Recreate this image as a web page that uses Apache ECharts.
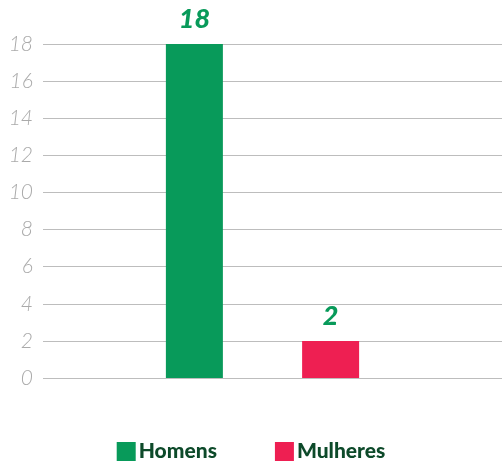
<!DOCTYPE html>
<html>
<head>
<meta charset="utf-8">
<script src="https://cdn.jsdelivr.net/npm/echarts@6/dist/echarts.min.js"></script>
<style>
  html, body { margin: 0; padding: 0; background: #fff; }
  #chart { width: 502px; height: 463px; }
</style>
</head>
<body>
<div id="chart"></div>
<script>
var categories = [''];
var seriesNames = ['Homens', 'Mulheres'];
var homensData = [18];
var mulheresData = [2];
var yMin = 0, yMax = 18, yStep = 2;

var green = '#089a5a';
var red = '#ee1f52';

var myChart = echarts.init(document.getElementById('chart'));

var labelStyle = {
  show: true,
  position: 'top',
  distance: 11,
  color: green,
  fontFamily: 'Lato',
  fontStyle: 'italic',
  fontWeight: 900,
  fontSize: 27
};

var option = {
  animation: false,
  // grid 0 only carries the y axis + grid lines, grid 1 holds the bars
  grid: [
    { left: 43, right: 0, top: 44, bottom: 85 },
    { left: 43, right: 20, top: 44, bottom: 85 }
  ],
  legend: {
    data: seriesNames,
    top: 441,
    left: 'center',
    padding: 0,
    itemWidth: 19,
    itemHeight: 19,
    itemGap: 58,
    icon: 'rect',
    textStyle: {
      color: '#0d4a2a',
      fontFamily: 'Lato',
      fontWeight: 900,
      fontSize: 21,
      padding: [0, 0, 0, -2]
    }
  },
  xAxis: [
    { type: 'category', gridIndex: 0, data: categories, show: false },
    { type: 'category', gridIndex: 1, data: categories, show: false }
  ],
  yAxis: [
    {
      type: 'value',
      gridIndex: 0,
      min: yMin,
      max: yMax,
      interval: yStep,
      axisLine: { show: false },
      axisTick: { show: false },
      axisLabel: {
        margin: 10,
        color: '#aaaaaa',
        fontFamily: 'Lato',
        fontStyle: 'italic',
        fontWeight: 300,
        fontSize: 21
      },
      splitLine: { lineStyle: { color: '#bdbdbd', width: 1 } }
    },
    {
      type: 'value',
      gridIndex: 1,
      min: yMin,
      max: yMax,
      interval: yStep,
      show: false,
      splitLine: { show: false }
    }
  ],
  series: [
    {
      name: seriesNames[0],
      type: 'bar',
      xAxisIndex: 1,
      yAxisIndex: 1,
      barWidth: 57,
      barGap: '139%',
      itemStyle: { color: green },
      label: labelStyle,
      data: homensData
    },
    {
      name: seriesNames[1],
      type: 'bar',
      xAxisIndex: 1,
      yAxisIndex: 1,
      barWidth: 57,
      barGap: '139%',
      itemStyle: { color: red },
      label: labelStyle,
      data: mulheresData
    }
  ]
};

myChart.setOption(option);
window.addEventListener('resize', function () {
  myChart.resize();
});
</script>
</body>
</html>
